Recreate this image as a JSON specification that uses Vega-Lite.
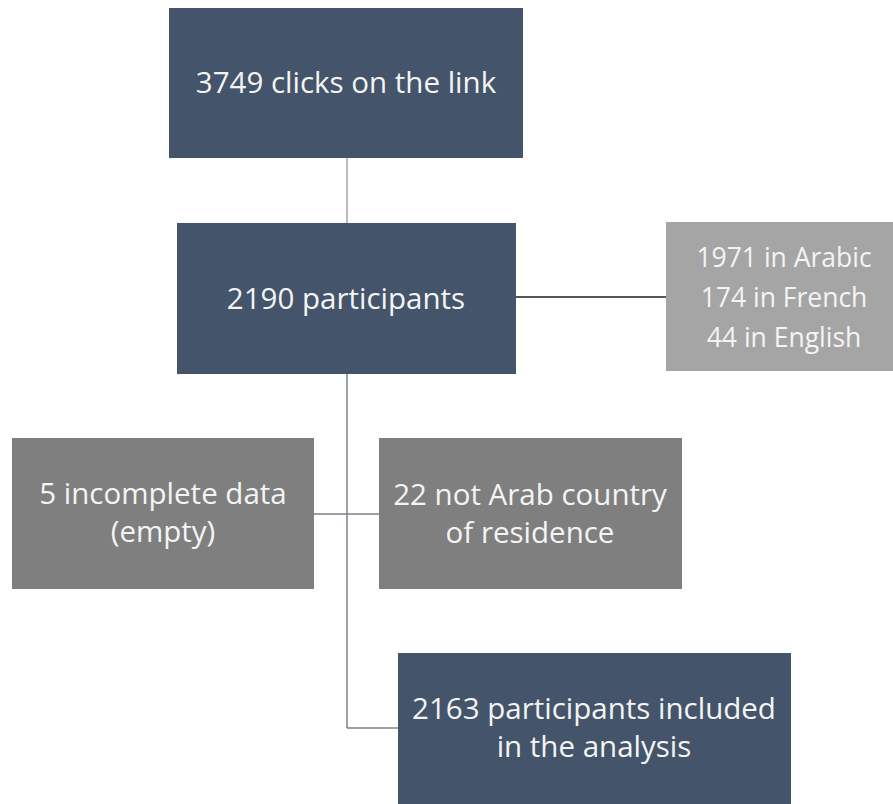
{
  "$schema": "https://vega.github.io/schema/vega-lite/v6.json",
  "width": 893,
  "height": 804,
  "padding": 0,
  "autosize": {"type": "fit", "contains": "padding"},
  "background": "white",
  "config": {"view": {"stroke": null}},
  "datasets": {
    "boxes": [
      {"id": "clicks", "kind": "main", "x0": 169, "x1": 523, "y0": 8, "y1": 158},
      {"id": "participants", "kind": "main", "x0": 177, "x1": 516, "y0": 223, "y1": 374},
      {"id": "language", "kind": "info", "x0": 666, "x1": 893, "y0": 222, "y1": 371},
      {"id": "incomplete", "kind": "excluded", "x0": 12, "x1": 314, "y0": 438, "y1": 589},
      {"id": "residence", "kind": "excluded", "x0": 379, "x1": 682, "y0": 438, "y1": 589},
      {"id": "included", "kind": "main", "x0": 398, "x1": 791, "y0": 653, "y1": 804}
    ],
    "links": [
      {"kind": "light", "x0": 347, "x1": 347, "y0": 158, "y1": 223},
      {"kind": "black", "x0": 516, "x1": 666, "y0": 297, "y1": 297},
      {"kind": "dark", "x0": 347, "x1": 347, "y0": 374, "y1": 728},
      {"kind": "dark", "x0": 314, "x1": 379, "y0": 514, "y1": 514},
      {"kind": "dark", "x0": 347, "x1": 398, "y0": 728, "y1": 728}
    ],
    "labels": [
      {"size": "big", "x": 346, "y": 93, "label": "3749 clicks on the link"},
      {"size": "big", "x": 346, "y": 309, "label": "2190 participants"},
      {"size": "small", "x": 784, "y": 267, "label": "1971 in Arabic\n174 in French\n44 in English"},
      {"size": "big", "x": 163, "y": 504, "label": "5 incomplete data\n(empty)"},
      {"size": "big", "x": 530, "y": 505, "label": "22 not Arab country\nof residence"},
      {"size": "big", "x": 594, "y": 719, "label": "2163 participants included\nin the analysis"}
    ]
  },
  "layer": [
    {
      "data": {"name": "links"},
      "mark": {"type": "rule", "strokeWidth": 1.5},
      "encoding": {
        "x": {"field": "x0", "type": "quantitative", "scale": {"domain": [0, 893], "nice": false, "zero": false}, "axis": null},
        "x2": {"field": "x1"},
        "y": {"field": "y0", "type": "quantitative", "scale": {"domain": [0, 804], "nice": false, "zero": false, "reverse": true}, "axis": null},
        "y2": {"field": "y1"},
        "color": {"field": "kind", "type": "nominal", "scale": {"domain": ["light", "black", "dark"], "range": ["#a6a6a6", "#1e1e1e", "#7a7f88"]}, "legend": null}
      }
    },
    {
      "data": {"name": "boxes"},
      "mark": {"type": "rect"},
      "encoding": {
        "x": {"field": "x0", "type": "quantitative", "axis": null},
        "x2": {"field": "x1"},
        "y": {"field": "y0", "type": "quantitative", "axis": null},
        "y2": {"field": "y1"},
        "fill": {"field": "kind", "type": "nominal", "scale": {"domain": ["main", "info", "excluded"], "range": ["#44546a", "#a5a5a5", "#7f7f7f"]}, "legend": null}
      }
    },
    {
      "data": {"name": "labels"},
      "transform": [{"filter": "datum.size === 'big'"}],
      "mark": {"type": "text", "font": "Open Sans", "fontSize": 29.5, "lineHeight": 38, "align": "center", "baseline": "alphabetic", "lineBreak": "\n", "color": "#f4f4f4"},
      "encoding": {
        "x": {"field": "x", "type": "quantitative", "axis": null},
        "y": {"field": "y", "type": "quantitative", "axis": null},
        "text": {"field": "label", "type": "nominal"}
      }
    },
    {
      "data": {"name": "labels"},
      "transform": [{"filter": "datum.size === 'small'"}],
      "mark": {"type": "text", "font": "Open Sans", "fontSize": 26.5, "lineHeight": 40, "align": "center", "baseline": "alphabetic", "lineBreak": "\n", "color": "#f4f4f4"},
      "encoding": {
        "x": {"field": "x", "type": "quantitative", "axis": null},
        "y": {"field": "y", "type": "quantitative", "axis": null},
        "text": {"field": "label", "type": "nominal"}
      }
    }
  ],
  "resolve": {"scale": {"color": "independent"}}
}
